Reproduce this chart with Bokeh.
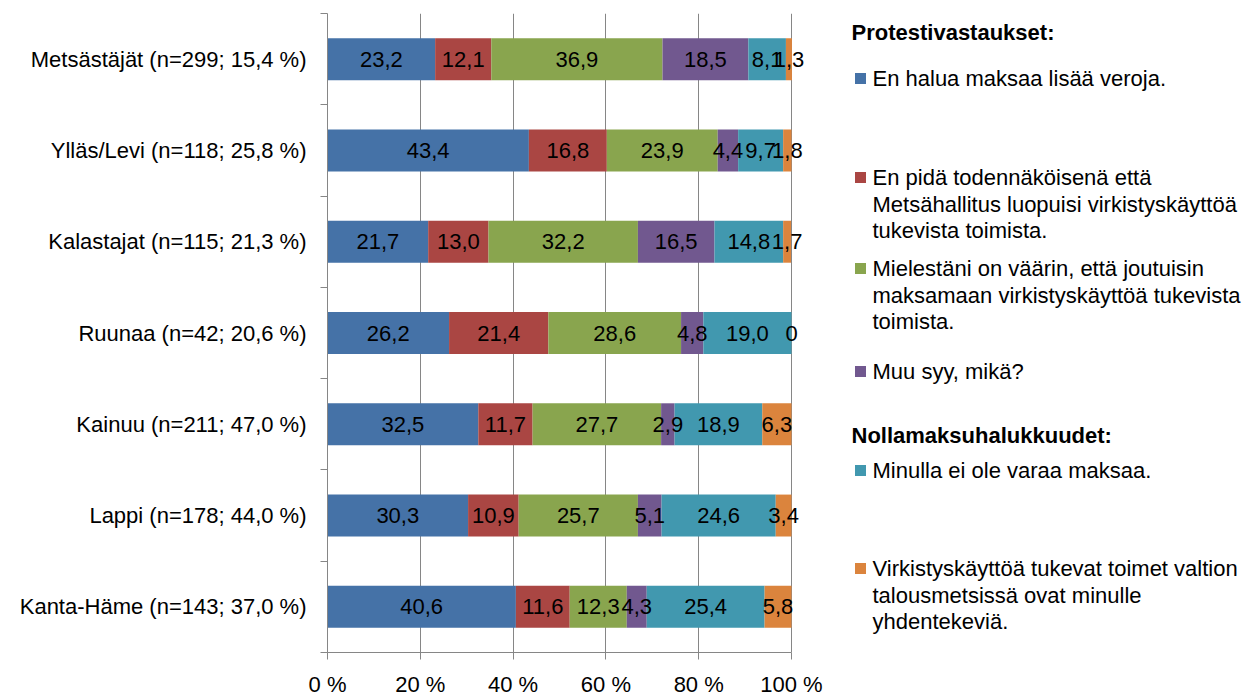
from bokeh.plotting import figure
from bokeh.models import ColumnDataSource, Range1d, FixedTicker, LabelSet
from bokeh.embed import file_html
from bokeh.resources import INLINE
from bokeh.core.properties import value

categories = [
    "Metsästäjät (n=299; 15,4 %)",
    "Ylläs/Levi (n=118; 25,8 %)",
    "Kalastajat (n=115; 21,3 %)",
    "Ruunaa (n=42; 20,6 %)",
    "Kainuu (n=211; 47,0 %)",
    "Lappi (n=178; 44,0 %)",
    "Kanta-Häme (n=143; 37,0 %)",
]
en_halua = [23.2, 43.4, 21.7, 26.2, 32.5, 30.3, 40.6]
en_pida = [12.1, 16.8, 13.0, 21.4, 11.7, 10.9, 11.6]
vaarin = [36.9, 23.9, 32.2, 28.6, 27.7, 25.7, 12.3]
muu_syy = [18.5, 4.4, 16.5, 4.8, 2.9, 5.1, 4.3]
ei_varaa = [8.1, 9.7, 14.8, 19.0, 18.9, 24.6, 25.4]
yhdentekevia = [1.3, 1.8, 1.7, 0.0, 6.3, 3.4, 5.8]
series = [en_halua, en_pida, vaarin, muu_syy, ei_varaa, yhdentekevia]

legend_title_1 = "Protestivastaukset:"
legend_title_2 = "Nollamaksuhalukkuudet:"
legend_items = [
    ["En halua maksaa lisää veroja."],
    ["En pidä todennäköisenä että", "Metsähallitus luopuisi virkistyskäyttöä", "tukevista toimista."],
    ["Mielestäni on väärin, että joutuisin", "maksamaan virkistyskäyttöä tukevista", "toimista."],
    ["Muu syy, mikä?"],
    ["Minulla ei ole varaa maksaa."],
    ["Virkistyskäyttöä tukevat toimet valtion", "talousmetsissä ovat minulle", "yhdentekeviä."],
]
colors = ["#4572A7", "#AA4643", "#89A54E", "#71588F", "#4198AF", "#DB843D"]

x_ticks = [0, 20, 40, 60, 80, 100]
x_tick_labels = ["0 %", "20 %", "40 %", "60 %", "80 %", "100 %"]

FONT = "Liberation Sans"
FS = "22px"
GREY = "#868686"

n = len(categories)
ypos = [n - 1 - i + 0.5 for i in range(n)]

# layout (pixels): the 0..100 % axis spans 464 px; the frame continues to the
# right edge so that the legend and labels near 100 % are drawn inside it
LEFT, TOP = 327, 13
PLOT_W, FRAME_H = 464, 639
FRAME_W = 1251 - LEFT
x_end = 100.0 * FRAME_W / PLOT_W


def px_x(px):
    return (px - LEFT) * 100.0 / PLOT_W


def px_y(py):
    return n * (TOP + FRAME_H - py) / FRAME_H


p = figure(
    output_backend="svg", toolbar_location=None,
    frame_width=FRAME_W, frame_height=FRAME_H,
    x_range=Range1d(0, x_end), y_range=Range1d(0, n),
    min_border_left=LEFT, min_border_right=0, min_border_top=TOP, min_border_bottom=10,
)
p.outline_line_color = None

cum = [0.0] * n
lab_x, lab_y, lab_t = [], [], []
for vals, col in zip(series, colors):
    left = cum[:]
    right = [a + b for a, b in zip(cum, vals)]
    src = ColumnDataSource(dict(y=ypos, left=left, right=right))
    p.hbar(y="y", left="left", right="right", height=0.46, source=src,
           fill_color=col, line_color=None)
    for i in range(n):
        lab_x.append((left[i] + right[i]) / 2)
        lab_y.append(ypos[i])
        lab_t.append("0" if vals[i] == 0 else f"{vals[i]:.1f}".replace(".", ","))
    cum = right

lsrc = ColumnDataSource(dict(x=lab_x, y=lab_y, t=lab_t))
p.add_layout(LabelSet(x="x", y="y", text="t", source=lsrc,
                      text_align="center", text_baseline="middle",
                      text_font=value(FONT), text_font_size=value(FS),
                      text_color="#000000"))

# x axis
p.xaxis.ticker = FixedTicker(ticks=x_ticks)
p.xaxis.bounds = (0, 100)
p.xaxis.major_label_overrides = {t: l for t, l in zip(x_ticks, x_tick_labels)}
p.xaxis.major_label_text_font = FONT
p.xaxis.major_label_text_font_size = FS
p.xaxis.major_label_text_color = "#000000"
p.xaxis.axis_line_color = GREY
p.xaxis.major_tick_line_color = GREY
p.xaxis.major_tick_out = 7
p.xaxis.major_tick_in = 0
p.xaxis.minor_tick_line_color = None
p.xaxis.major_label_standoff = 12
p.xgrid.ticker = FixedTicker(ticks=x_ticks)
p.xgrid.bounds = (0, 100)
p.xgrid.grid_line_color = GREY

# y axis
p.yaxis.ticker = FixedTicker(ticks=ypos, minor_ticks=list(range(n + 1)))
p.yaxis.major_label_overrides = {y: c for y, c in zip(ypos, categories)}
p.yaxis.major_label_text_font = FONT
p.yaxis.major_label_text_font_size = FS
p.yaxis.major_label_text_color = "#000000"
p.yaxis.axis_line_color = GREY
p.yaxis.major_tick_line_color = None
p.yaxis.major_tick_out = 0
p.yaxis.major_tick_in = 0
p.yaxis.minor_tick_line_color = GREY
p.yaxis.minor_tick_out = 7
p.yaxis.minor_tick_in = 0
p.yaxis.major_label_standoff = 14
p.ygrid.grid_line_color = None

# legend (drawn inside the extended frame)
p.text(x=[px_x(851)] * 2, y=[px_y(32), px_y(435)], text=[legend_title_1, legend_title_2],
       text_font=value(FONT), text_font_size=value(FS), text_font_style="bold",
       text_baseline="middle", text_align="left", text_color="#000000")

item_first_y = [78, 177, 268, 371, 470, 568]
line_gap = 26.5
tx, ty, tt = [], [], []
for lines, y0 in zip(legend_items, item_first_y):
    for k, ln in enumerate(lines):
        tx.append(px_x(872))
        ty.append(px_y(y0 + k * line_gap))
        tt.append(ln)
p.scatter(x=[px_x(860)] * len(colors), y=[px_y(v) for v in item_first_y],
          marker="square", size=11, fill_color=colors, line_color=None)
p.text(x=tx, y=ty, text=tt, text_font=value(FONT), text_font_size=value(FS),
       text_baseline="middle", text_align="left", text_color="#000000")

open("out.html", "w").write(file_html(p, INLINE))
